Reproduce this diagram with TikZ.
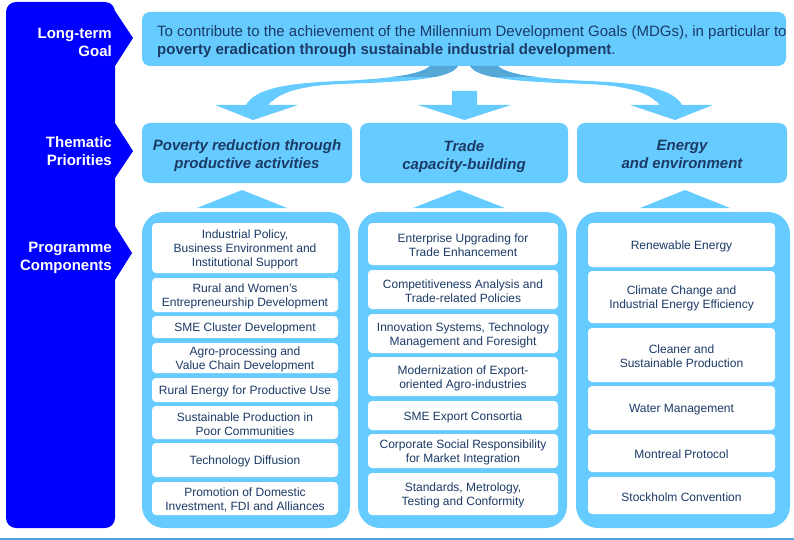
\documentclass[tikz,border=0pt]{standalone}
\usepackage{fontspec}
\setmainfont{Liberation Sans}
\definecolor{sideblue}{HTML}{0000FF}
\definecolor{lblue}{HTML}{66CCFF}
\definecolor{dblue}{HTML}{55A8D8}
\definecolor{navy}{HTML}{1B3A66}
\definecolor{lineblue}{HTML}{4DA3DA}
\tikzset{
  sidelabel/.style={text=white, font=\fontsize{15}{18}\selectfont\bfseries, align=right, anchor=east, inner sep=0pt},
  goalbox/.style={fill=lblue, rounded corners=8pt, minimum width=644pt, minimum height=54pt, inner sep=0pt},
  goaltext/.style={text=navy, font=\fontsize{15}{18}\selectfont, align=left, anchor=west, inner sep=0pt},
  theme/.style={fill=lblue, rounded corners=8pt, inner sep=0pt, minimum height=60pt},
  themetext/.style={text=navy, font=\fontsize{15}{18}\selectfont\bfseries\itshape, align=center, inner sep=0pt},
  frame/.style={fill=lblue, rounded corners=22pt, minimum height=316pt, inner sep=0pt},
  comp/.style={fill=white, rounded corners=4pt, inner sep=0pt},
  comptext/.style={text=navy, font=\fontsize{12}{14}\selectfont, align=center, inner sep=0pt},
  colA/.style={comp, minimum width=186pt},
  colB/.style={comp, minimum width=190pt},
  colC/.style={comp, minimum width=187pt},
  arrowfill/.style={fill=lblue},
}
% \cbox{name}{style}{x}{y}{height}{text}
\newcommand\cbox[6]{%
  \node[#2, minimum height=#5pt] (#1) at (#3,#4) {};
  \node[comptext] (#1t) at ([yshift=-1.7pt]#1.center) {#6};}
\begin{document}
\begin{tikzpicture}[x=1pt,y=-1pt]
\useasboundingbox (0,0) rectangle (794,540);
% bottom rule
\fill[lineblue] (0,537.5) rectangle (794,540);
% side bar
\fill[sideblue] (6,265) [rounded corners=10pt] -- (6,2) -- (115,2) [sharp corners] -- (115,11) -- (133,38) -- (115,66) -- (115,123) -- (133,151) -- (115,178) -- (115,226) -- (132,253) -- (115,280) [rounded corners=10pt] -- (115,528) -- (6,528) -- cycle;
\node[sidelabel] (l1) at (112,42) {Long-term\\Goal};
\node[sidelabel] (l2) at (112,151) {Thematic\\Priorities};
\node[sidelabel] (l3) at (112,258) {Programme\\Components};
% goal
\node[goalbox] (goal) at (464,39) {};
\node[goaltext] (goaltxt) at (157,42) {To contribute to the achievement of the Millennium Development Goals (MDGs), in particular to\\\textbf{poverty eradication through sustainable industrial development}.};
% curved arrows
\def\leftarrowpath{(430,66) .. controls (420,76) and (380,79) .. (340,81) .. controls (285,83) and (255,89) .. (246,105) -- (215,105) -- (253,120) -- (298,105) -- (268,105) .. controls (280,92) and (300,86) .. (340,84) .. controls (400,82) and (450,80) .. (458,66) -- cycle}
\fill[arrowfill] \leftarrowpath;
\begin{scope}
\clip (380,66) rectangle (470,77);
\fill[dblue] \leftarrowpath;
\end{scope}
\begin{scope}[shift={(928,0)}, xscale=-1]
\fill[arrowfill] \leftarrowpath;
\begin{scope}
\clip (380,66) rectangle (470,77);
\fill[dblue] \leftarrowpath;
\end{scope}
\end{scope}
% centre arrow
\fill[arrowfill] (452,91) -- (477,91) -- (477,105) -- (511,105) -- (464.5,120) -- (418,105) -- (452,105) -- cycle;
% thematic priorities
\node[theme, minimum width=210pt] (t1) at (247,153) {};
\node[themetext] (t1t) at ([yshift=-3pt]t1.center) {Poverty reduction through\\productive activities};
\node[theme, minimum width=208pt] (t2) at (464,153) {};
\node[themetext] (t2t) at ([yshift=-4pt]t2.center) {Trade\\capacity-building};
\node[theme, minimum width=210pt] (t3) at (682,153) {};
\node[themetext] (t3t) at ([yshift=-1pt]t3.center) {Energy\\and environment};
% up triangles
\fill[arrowfill] (197,208) -- (242,190) -- (287,208) -- cycle;
\fill[arrowfill] (413,208) -- (459,190) -- (505,208) -- cycle;
\fill[arrowfill] (640,208) -- (685,190) -- (730,208) -- cycle;
% frames
\node[frame, minimum width=208pt] (f1) at (246,370) {};
\node[frame, minimum width=209pt] (f2) at (462.5,370) {};
\node[frame, minimum width=214pt] (f3) at (683,370) {};
% column 1
\cbox{a1}{colA}{245}{248}{50}{Industrial Policy,\\Business Environment and\\Institutional Support}
\cbox{a2}{colA}{245}{295}{34}{Rural and Women’s\\Entrepreneurship Development}
\cbox{a3}{colA}{245}{327}{22}{SME Cluster Development}
\cbox{a4}{colA}{245}{358}{30}{Agro-processing and\\Value Chain Development}
\cbox{a5}{colA}{245}{390}{24}{Rural Energy for Productive Use}
\cbox{a6}{colA}{245}{422.5}{33}{Sustainable Production in\\Poor Communities}
\cbox{a7}{colA}{245}{460}{34}{Technology Diffusion}
\cbox{a8}{colA}{245}{498.5}{33}{Promotion of Domestic\\Investment, FDI and Alliances}
% column 2
\cbox{b1}{colB}{463}{244}{42}{Enterprise Upgrading for\\Trade Enhancement}
\cbox{b2}{colB}{463}{289.5}{39}{Competitiveness Analysis and\\Trade-related Policies}
\cbox{b3}{colB}{463}{333.5}{39}{Innovation Systems, Technology\\Management and Foresight}
\cbox{b4}{colB}{463}{376.5}{39}{Modernization of Export-\\oriented Agro-industries}
\cbox{b5}{colB}{463}{415.5}{29}{SME Export Consortia}
\cbox{b6}{colB}{463}{451}{34}{Corporate Social Responsibility\\for Market Integration}
\cbox{b7}{colB}{463}{494}{42}{Standards, Metrology,\\Testing and Conformity}
% column 3
\cbox{c1}{colC}{681.5}{245}{44}{Renewable Energy}
\cbox{c2}{colC}{681.5}{297}{52}{Climate Change and\\Industrial Energy Efficiency}
\cbox{c3}{colC}{681.5}{355}{54}{Cleaner and\\Sustainable Production}
\cbox{c4}{colC}{681.5}{408}{44}{Water Management}
\cbox{c5}{colC}{681.5}{453}{38}{Montreal Protocol}
\cbox{c6}{colC}{681.5}{495.5}{37}{Stockholm Convention}
\end{tikzpicture}
\end{document}
